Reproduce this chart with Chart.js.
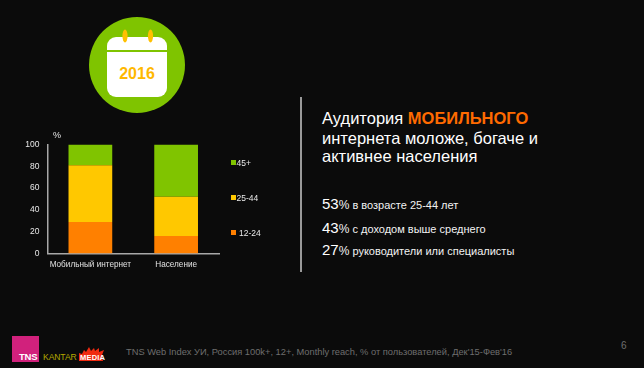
<!DOCTYPE html>
<html lang="ru"><head><meta charset="utf-8">
<script src="https://cdn.jsdelivr.net/npm/chart.js@4/dist/chart.umd.min.js"></script>
<style>
html,body{margin:0;padding:0;background:#0b0b0b;width:644px;height:368px;overflow:hidden}
body{position:relative;font-family:"Liberation Sans",Arial,sans-serif;color:#fff}
.a{position:absolute;white-space:nowrap}
#wrap{position:absolute;left:0;top:120px;width:300px;height:160px}
.h{font-size:16.5px;line-height:20px;left:322px;color:#fff}
.b{font-size:11px;left:322px;color:#f2f2f2;line-height:16px}
.b b{font-weight:400;font-size:15px;color:#fff}
.b i{font-style:normal;font-size:12px}
.lg{font-size:8.5px;color:#e8e8e8;line-height:10px}
.sw{position:absolute;width:5px;height:5px}
</style></head><body>
<svg class="a" style="left:80px;top:0" width="120" height="125" viewBox="0 0 120 125">
<circle cx="57" cy="65" r="48" fill="#7fc400"/>
<rect x="27" y="37" width="60" height="60" rx="9" fill="#fff"/>
<rect x="27" y="50" width="60" height="2" fill="#7fc400"/>
<ellipse cx="45" cy="36" rx="2.6" ry="6.5" fill="#ffc000"/>
<ellipse cx="70.5" cy="36" rx="2.6" ry="6.5" fill="#ffc000"/>
<text x="57" y="79" text-anchor="middle" font-family="Liberation Sans" font-weight="700" font-size="16" fill="#ffb800">2016</text>
</svg>
<div id="wrap"><canvas id="c" width="300" height="160"></canvas></div>
<div class="a" style="left:53px;top:130px;font-size:9px;color:#e8e8e8">%</div>
<div id="legend"></div>
<div class="a" style="left:300px;top:97px;width:1.5px;height:175px;background:#9a9a9a"></div>
<div class="a h" style="top:108px">Аудитория <b style="color:#ff6a00">МОБИЛЬНОГО</b></div>
<div class="a h" style="top:128px">интернета моложе, богаче и</div>
<div class="a h" style="top:146px">активнее населения</div>
<div class="a b" style="top:196px"><b>53</b><i>%</i> в возрасте 25-44 лет</div>
<div class="a b" style="top:220px"><b>43</b><i>%</i> с доходом выше среднего</div>
<div class="a b" style="top:242px"><b>27</b><i>%</i> руководители или специалисты</div>
<div class="a" style="left:12px;top:336px;width:27px;height:26px;background:#d1217c"></div>
<div class="a" style="left:19px;top:351px;font-size:9.5px;font-weight:700;color:#fff;letter-spacing:-.2px">TNS</div>
<div class="a" style="left:43px;top:352px;font-size:8.6px;color:#b5a800;letter-spacing:-.1px">KANTAR</div>
<svg class="a" style="left:79px;top:347px" width="28" height="14"><path d="M0 14V6l3 1 2-4 2 2 3-5 2 4 3-3 1 3 4-3 0 4 5-2-2 5 1 6z" fill="#f02a10"/><text x="1" y="13" font-family="Liberation Sans" font-weight="700" font-size="7.5" textLength="25" fill="#fff">MEDIA</text></svg>
<div class="a" style="left:126px;top:347px;font-size:9.3px;color:#6e6e6e">TNS Web Index УИ, Россия 100k+, 12+, Monthly reach, % от пользователей, Дек'15-Фев'16</div>
<div class="a" style="left:621px;top:340px;font-size:10px;color:#6e6e6e">6</div>
<script>
const categories = ["Мобильный интернет", "Население"];
const age1224 = [29, 16];
const age2544 = [52, 36];
const age45 = [19, 48];
const yTicks = [0, 20, 40, 60, 80, 100];
const seriesLabels = ["12-24", "25-44", "45+"];
const seriesColors = ["#ff8000", "#ffc800", "#80c400"];

new Chart(document.getElementById("c"), {
  type: "bar",
  data: { labels: categories, datasets: [
    { label: seriesLabels[0], data: age1224, backgroundColor: seriesColors[0] },
    { label: seriesLabels[1], data: age2544, backgroundColor: seriesColors[1] },
    { label: seriesLabels[2], data: age45, backgroundColor: seriesColors[2] }
  ]},
  options: {
    responsive: false, animation: false,
    layout: { padding: { left: 0, top: 24.5, right: 81, bottom: 0 } },
    datasets: { bar: { categoryPercentage: 1, barPercentage: 0.51 } },
    plugins: { legend: { display: false }, tooltip: { enabled: false } },
    scales: {
      x: { stacked: true,
        afterFit: s => { s.height = 26.5; },
        grid: { display: false, drawTicks: false },
        border: { color: "#a8a8a8", width: 1.5 },
        ticks: { color: "#e0e0e0", font: { family: "Liberation Sans", size: 8.2 }, padding: 6, maxRotation: 0, autoSkip: false } },
      y: { stacked: true, min: 0, max: 100,
        afterBuildTicks: s => { s.ticks = yTicks.map(v => ({ value: v })); },
        afterFit: s => { s.width = 47.5; },
        grid: { display: false, drawTicks: false },
        border: { color: "#a8a8a8", width: 1.5 },
        ticks: { color: "#e8e8e8", font: { family: "Liberation Sans", size: 8.5 }, padding: 8 } }
    }
  }
});

const legendY = [232.5, 197, 162];
const legend = document.getElementById("legend");
[2, 1, 0].forEach(i => {
  const top = legendY[i];
  legend.insertAdjacentHTML("beforeend",
    `<div class="sw" style="left:230.5px;top:${top - 2.5}px;background:${seriesColors[i]}"></div>` +
    `<div class="a lg" style="left:${i === 0 ? 239 : 236.5}px;top:${top - 4.5}px">${seriesLabels[i]}</div>`);
});
</script>
</body></html>
